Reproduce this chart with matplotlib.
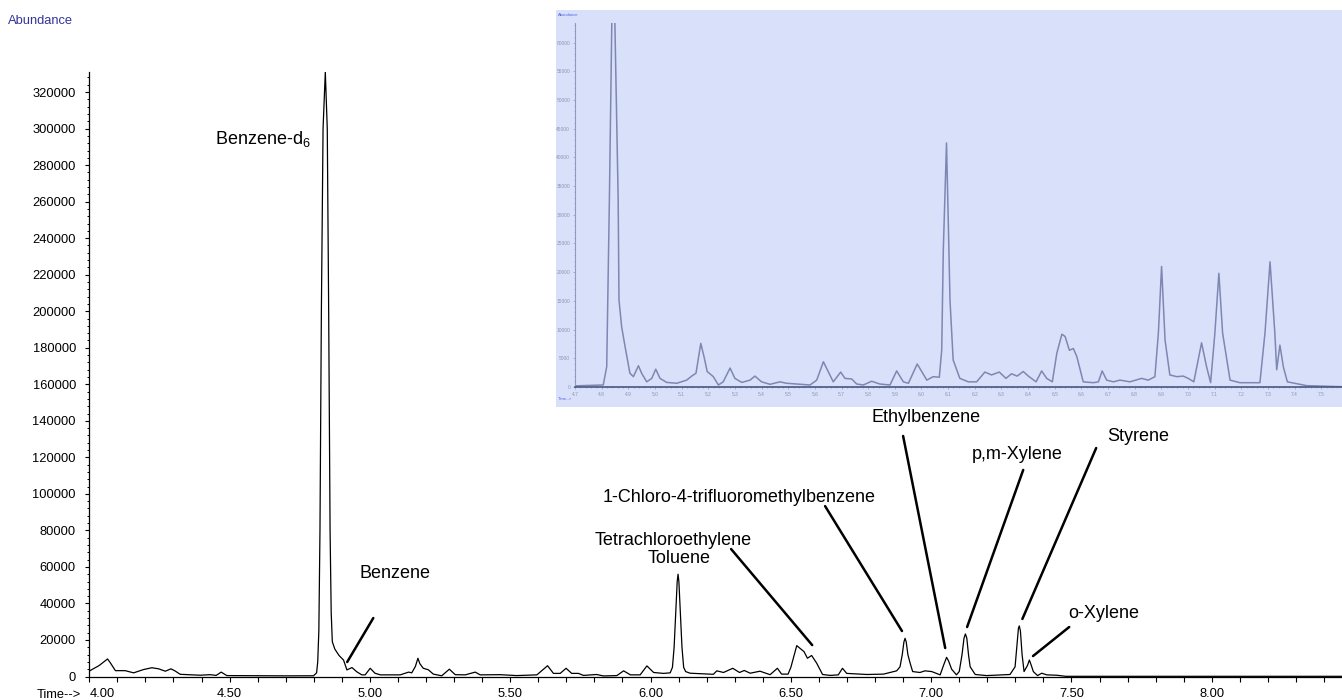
import matplotlib
matplotlib.use('Agg')
import matplotlib.pyplot as plt
from matplotlib.patches import Rectangle
from matplotlib.ticker import MultipleLocator, StrMethodFormatter

plt.rcParams['font.family'] = ['Liberation Sans', 'DejaVu Sans']
plt.rcParams['mathtext.fontset'] = 'custom'
plt.rcParams['mathtext.rm'] = 'Liberation Sans'
plt.rcParams['mathtext.default'] = 'regular'

# main chromatogram: retention time (min) and abundance
time = [4.000, 4.035, 4.065, 4.075, 4.093, 4.128, 4.158, 4.193, 4.223, 4.247,
        4.271, 4.291, 4.306, 4.324, 4.395, 4.431, 4.452, 4.470, 4.490, 4.600,
        4.700, 4.799, 4.810, 4.814, 4.818, 4.822, 4.827, 4.833, 4.841, 4.848,
        4.853, 4.858, 4.862, 4.866, 4.875, 4.890, 4.906, 4.918, 4.936, 4.953,
        4.971, 4.983, 5.001, 5.018, 5.037, 5.108, 5.138, 5.149, 5.162, 5.171,
        5.178, 5.190, 5.208, 5.226, 5.256, 5.283, 5.304, 5.340, 5.375, 5.393,
        5.464, 5.523, 5.595, 5.633, 5.654, 5.678, 5.699, 5.719, 5.743, 5.761,
        5.808, 5.832, 5.880, 5.904, 5.928, 5.963, 5.987, 6.011, 6.046, 6.070,
        6.078, 6.084, 6.090, 6.095, 6.098, 6.101, 6.106, 6.112, 6.118, 6.125,
        6.141, 6.224, 6.236, 6.260, 6.293, 6.317, 6.334, 6.355, 6.390, 6.426,
        6.452, 6.467, 6.490, 6.500, 6.521, 6.547, 6.559, 6.574, 6.592, 6.613,
        6.640, 6.669, 6.684, 6.699, 6.771, 6.830, 6.877, 6.889, 6.897, 6.903,
        6.907, 6.911, 6.917, 6.925, 6.934, 6.960, 6.978, 7.002, 7.032, 7.045,
        7.055, 7.062, 7.073, 7.090, 7.100, 7.110, 7.117, 7.122, 7.127, 7.133,
        7.139, 7.157, 7.198, 7.281, 7.299, 7.306, 7.311, 7.314, 7.318, 7.324,
        7.331, 7.343, 7.350, 7.357, 7.364, 7.379, 7.394, 7.412, 7.447, 7.480,
        8.000, 8.464]
abundance = [3000, 6000, 9600, 7500, 3200, 3200, 2000, 3800, 4800, 4200,
             2900, 4200, 3000, 1200, 700, 1000, 600, 2400, 500, 400,
             350, 400, 2000, 8000, 25000, 80000, 200000, 300000, 331000, 300000,
             200000, 80000, 35000, 19000, 15000, 11500, 9000, 3600, 4900, 2600,
             900, 900, 4500, 1800, 900, 900, 2400, 2000, 5500, 10000,
             7000, 4500, 3700, 1300, 400, 4000, 1000, 900, 2400, 900,
             1000, 500, 900, 5900, 1700, 1700, 4500, 1700, 1700, 600,
             1100, 300, 500, 3100, 900, 900, 5800, 2200, 1700, 2000,
             5000, 16000, 36000, 52000, 56000, 52000, 36000, 16000, 5000, 2700,
             1800, 1200, 3100, 2200, 4500, 2200, 3300, 1800, 2900, 1000,
             4500, 1300, 1300, 5000, 16900, 13600, 10000, 11500, 7300, 1100,
             600, 900, 4500, 1700, 1100, 1300, 3100, 5300, 12000, 19000,
             20900, 19000, 12000, 7300, 2700, 2200, 3100, 2700, 900, 6500,
             10500, 8500, 4000, 900, 2700, 12000, 21000, 23300, 21000, 12000,
             5300, 1100, 500, 1100, 5300, 18000, 26500, 27700, 25000, 12000,
             2700, 6000, 9000, 6000, 2700, 500, 1800, 900, 700, 100,
             100, 100]

# inset run (screen capture of a second trace)
inset_time = [4.700, 4.806, 4.819, 4.829, 4.843, 4.862, 4.865, 4.875, 4.888, 4.906,
              4.919, 4.938, 4.950, 4.969, 4.988, 5.003, 5.019, 5.044, 5.082, 5.119,
              5.138, 5.154, 5.172, 5.184, 5.196, 5.219, 5.238, 5.256, 5.282, 5.300,
              5.326, 5.357, 5.375, 5.400, 5.432, 5.469, 5.494, 5.532, 5.582, 5.607,
              5.632, 5.650, 5.669, 5.697, 5.713, 5.738, 5.757, 5.782, 5.813, 5.844,
              5.882, 5.907, 5.932, 5.951, 5.984, 6.001, 6.020, 6.044, 6.067, 6.076,
              6.082, 6.094, 6.103, 6.107, 6.119, 6.144, 6.176, 6.207, 6.238, 6.263,
              6.292, 6.317, 6.338, 6.359, 6.382, 6.401, 6.430, 6.451, 6.470, 6.491,
              6.508, 6.527, 6.539, 6.555, 6.570, 6.583, 6.607, 6.645, 6.664, 6.678,
              6.695, 6.720, 6.745, 6.782, 6.826, 6.851, 6.876, 6.889, 6.901, 6.914,
              6.932, 6.958, 6.982, 7.001, 7.022, 7.051, 7.070, 7.085, 7.101, 7.116,
              7.130, 7.158, 7.195, 7.270, 7.289, 7.308, 7.326, 7.333, 7.345, 7.358,
              7.373, 7.389, 7.446, 7.577]
inset_abund = [200, 350, 3540, 32600, 80000, 32600, 15200, 10500, 7000, 2400,
               1800, 3700, 2400, 900, 1500, 3100, 1500, 800, 650, 1200,
               1900, 2400, 7600, 5300, 2700, 1800, 350, 900, 3300, 1500,
               800, 1200, 1900, 900, 470, 900, 650, 520, 350, 1200,
               4400, 2700, 900, 2600, 1500, 1400, 520, 350, 1000, 520,
               350, 2800, 900, 650, 4000, 2700, 1200, 1800, 1700, 6400,
               23900, 42500, 23900, 15200, 4700, 1500, 900, 900, 2600, 2100,
               2600, 1500, 2300, 1900, 2700, 1900, 900, 2800, 1500, 900,
               5900, 9200, 8800, 6400, 6700, 5300, 900, 750, 900, 2800,
               1200, 900, 1200, 900, 1500, 1200, 1800, 9400, 21000, 8200,
               2100, 1800, 1900, 1500, 900, 7700, 3500, 750, 9400, 19800,
               9400, 1200, 750, 750, 9400, 21800, 9400, 3000, 7300, 3500,
               900, 750, 230, 50]

# compound labels: text position (baseline) and leader line start/end
compounds = ['Benzene-d$_6$', 'Benzene', 'Toluene', 'Tetrachloroethylene',
             '1-Chloro-4-trifluoromethylbenzene', 'Ethylbenzene', 'p,m-Xylene',
             'Styrene', 'o-Xylene']
label_pos = [(4.617, 291400), (5.091, 53800), (6.102, 62300), (6.082, 72000),
             (6.317, 95500), (6.982, 139200), (7.308, 118900), (7.736, 129200),
             (7.614, 31900)]
lead_start = [None, (5.012, 32000), None, (6.287, 69800), (6.622, 93300),
              (6.900, 131700), (7.328, 113100), (7.588, 125100), (7.492, 27100)]
lead_end = [None, (4.919, 7940), None, (6.576, 17200), (6.896, 24900),
            (7.050, 15600), (7.128, 27100), (7.325, 31500), (7.363, 11200)]

fig = plt.figure(figsize=(13.42, 7.0), dpi=100)
fig.patch.set_facecolor('white')

ax = fig.add_axes([89.3/1342, 23.5/700, 1252.7/1342, 604.5/700])
ax.set_zorder(0)
ax.set_facecolor('none')
ax.plot(time, abundance, color='black', lw=0.9)
ax.set_xlim(4.0, 8.464)
ax.set_ylim(0, 331000)
for s in ['top', 'right']:
    ax.spines[s].set_visible(False)
for s in ['left', 'bottom']:
    ax.spines[s].set_linewidth(0.9)
ax.xaxis.set_major_locator(MultipleLocator(0.5))
ax.xaxis.set_minor_locator(MultipleLocator(0.1))
ax.xaxis.set_major_formatter(StrMethodFormatter('{x:.2f}'))
ax.yaxis.set_major_locator(MultipleLocator(20000))
ax.yaxis.set_minor_locator(MultipleLocator(4000))
ax.yaxis.set_major_formatter(StrMethodFormatter('{x:.0f}'))
ax.tick_params(axis='x', which='both', length=3.6, width=0.8, labelsize=9.3, pad=4.5)
ax.tick_params(axis='y', which='major', length=2.6, width=0.8, labelsize=9.3, pad=7)
ax.tick_params(axis='y', which='minor', length=1.5, width=0.7)
# first time label sits just right of the "Time-->" prefix
ax.get_xticklabels()[0].set_horizontalalignment('left')
for lab in ax.get_xticklabels():
    if lab.get_text() == '4.00':
        lab.set_horizontalalignment('left')

for name, pos, p0, p1 in zip(compounds, label_pos, lead_start, lead_end):
    ax.text(pos[0], pos[1], name, fontsize=13, ha='center', va='baseline')
    if p0 is not None:
        ax.annotate('', xy=p1, xytext=p0,
                    arrowprops=dict(arrowstyle='-', lw=1.8, color='black',
                                    shrinkA=0, shrinkB=0))

fig.text(8/1342, 1 - 21.5/700, 'Abundance', color='#333399', fontsize=9.3,
         ha='left', va='center')
fig.text(81/1342, 1 - 695/700, 'Time-->', fontsize=9.3, ha='right', va='center')

# inset screenshot panel
bg = '#d8e1f9'
fig.patches.append(Rectangle((556/1342, 293/700), 786/1342, 397/700,
                             transform=fig.transFigure, facecolor=bg,
                             edgecolor='none', zorder=1))
axin = fig.add_axes([575/1342, 313/700, 767/1342, 364/700])
axin.set_zorder(2)
axin.set_facecolor(bg)
axin.plot(inset_time, inset_abund, color='#7d87b2', lw=1.1)
axin.set_xlim(4.70, 7.578)
axin.set_ylim(0, 63400)
for s in ['top', 'right']:
    axin.spines[s].set_visible(False)
axin.spines['bottom'].set_color('#4a5580')
axin.spines['bottom'].set_linewidth(1.2)
axin.spines['left'].set_color('#8f9ac0')
axin.spines['left'].set_linewidth(0.8)
axin.xaxis.set_major_locator(MultipleLocator(0.1))
axin.xaxis.set_minor_locator(MultipleLocator(0.02))
axin.xaxis.set_major_formatter(StrMethodFormatter('{x:.1f}'))
axin.yaxis.set_major_locator(MultipleLocator(5000))
axin.yaxis.set_minor_locator(MultipleLocator(1000))
axin.yaxis.set_major_formatter(StrMethodFormatter('{x:.0f}'))
axin.tick_params(which='both', colors='#9aa4c6', labelcolor='#8b95b8',
                 labelsize=3.5, length=1.5, width=0.6, pad=2)
axin.tick_params(which='minor', length=1.0)
fig.text(558/1342, 1 - 15/700, 'Abundance', color='#5566dd', fontsize=3,
         ha='left', va='center', zorder=3)
fig.text(558/1342, 1 - 399/700, 'Time-->', color='#5566dd', fontsize=3,
         ha='left', va='center', zorder=3)

fig.savefig('out.png', dpi=100)
